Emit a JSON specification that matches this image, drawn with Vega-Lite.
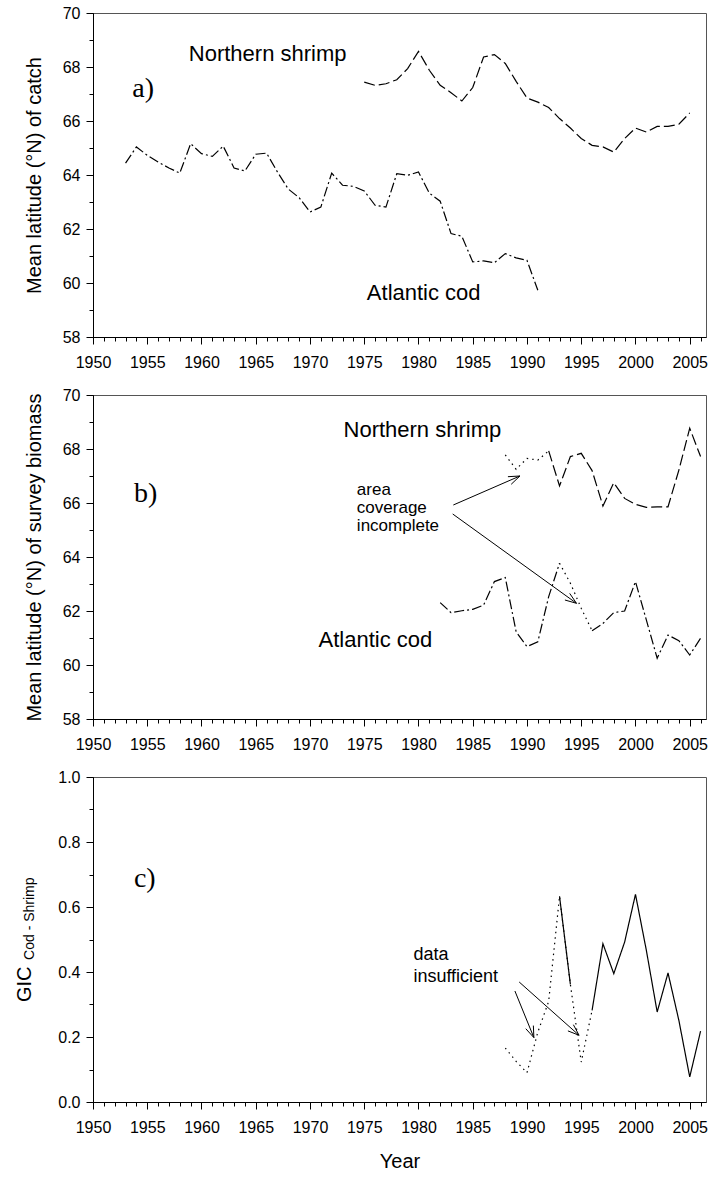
{
  "$schema": "https://vega.github.io/schema/vega-lite/v6.json",
  "background": "white",
  "padding": {"left": 14, "top": 4, "right": 5, "bottom": 5},
  "bounds": "flush",
  "spacing": 58,
  "resolve": {"scale": {"strokeDash": "independent"}},
  "config": {
    "font": "Liberation Sans",
    "view": {"stroke": "#555", "strokeWidth": 1},
    "axis": {
      "domainColor": "black", "tickColor": "black", "grid": false,
      "labelFont": "Liberation Sans", "labelFontSize": 16, "labelColor": "black",
      "titleFont": "Liberation Sans", "titleFontSize": 20, "titleFontWeight": "normal", "titleColor": "black",
      "labelFlush": false, "labelOverlap": false, "labelBound": false
    }
  },
  "datasets": {
    "catch": [
      {"year": 1953, "lat": 64.44, "species": "Atlantic cod"},
      {"year": 1954, "lat": 65.04, "species": "Atlantic cod"},
      {"year": 1955, "lat": 64.73, "species": "Atlantic cod"},
      {"year": 1956, "lat": 64.48, "species": "Atlantic cod"},
      {"year": 1957, "lat": 64.26, "species": "Atlantic cod"},
      {"year": 1958, "lat": 64.07, "species": "Atlantic cod"},
      {"year": 1959, "lat": 65.16, "species": "Atlantic cod"},
      {"year": 1960, "lat": 64.79, "species": "Atlantic cod"},
      {"year": 1961, "lat": 64.69, "species": "Atlantic cod"},
      {"year": 1962, "lat": 65.07, "species": "Atlantic cod"},
      {"year": 1963, "lat": 64.26, "species": "Atlantic cod"},
      {"year": 1964, "lat": 64.15, "species": "Atlantic cod"},
      {"year": 1965, "lat": 64.77, "species": "Atlantic cod"},
      {"year": 1966, "lat": 64.81, "species": "Atlantic cod"},
      {"year": 1967, "lat": 64.11, "species": "Atlantic cod"},
      {"year": 1968, "lat": 63.48, "species": "Atlantic cod"},
      {"year": 1969, "lat": 63.16, "species": "Atlantic cod"},
      {"year": 1970, "lat": 62.63, "species": "Atlantic cod"},
      {"year": 1971, "lat": 62.81, "species": "Atlantic cod"},
      {"year": 1972, "lat": 64.07, "species": "Atlantic cod"},
      {"year": 1973, "lat": 63.62, "species": "Atlantic cod"},
      {"year": 1974, "lat": 63.58, "species": "Atlantic cod"},
      {"year": 1975, "lat": 63.41, "species": "Atlantic cod"},
      {"year": 1976, "lat": 62.88, "species": "Atlantic cod"},
      {"year": 1977, "lat": 62.81, "species": "Atlantic cod"},
      {"year": 1978, "lat": 64.05, "species": "Atlantic cod"},
      {"year": 1979, "lat": 63.99, "species": "Atlantic cod"},
      {"year": 1980, "lat": 64.11, "species": "Atlantic cod"},
      {"year": 1981, "lat": 63.33, "species": "Atlantic cod"},
      {"year": 1982, "lat": 63.03, "species": "Atlantic cod"},
      {"year": 1983, "lat": 61.83, "species": "Atlantic cod"},
      {"year": 1984, "lat": 61.73, "species": "Atlantic cod"},
      {"year": 1985, "lat": 60.78, "species": "Atlantic cod"},
      {"year": 1986, "lat": 60.82, "species": "Atlantic cod"},
      {"year": 1987, "lat": 60.75, "species": "Atlantic cod"},
      {"year": 1988, "lat": 61.09, "species": "Atlantic cod"},
      {"year": 1989, "lat": 60.93, "species": "Atlantic cod"},
      {"year": 1990, "lat": 60.84, "species": "Atlantic cod"},
      {"year": 1991, "lat": 59.73, "species": "Atlantic cod"},
      {"year": 1975, "lat": 67.44, "species": "Northern shrimp"},
      {"year": 1976, "lat": 67.32, "species": "Northern shrimp"},
      {"year": 1977, "lat": 67.38, "species": "Northern shrimp"},
      {"year": 1978, "lat": 67.53, "species": "Northern shrimp"},
      {"year": 1979, "lat": 67.94, "species": "Northern shrimp"},
      {"year": 1980, "lat": 68.58, "species": "Northern shrimp"},
      {"year": 1981, "lat": 67.88, "species": "Northern shrimp"},
      {"year": 1982, "lat": 67.32, "species": "Northern shrimp"},
      {"year": 1983, "lat": 67.05, "species": "Northern shrimp"},
      {"year": 1984, "lat": 66.74, "species": "Northern shrimp"},
      {"year": 1985, "lat": 67.24, "species": "Northern shrimp"},
      {"year": 1986, "lat": 68.37, "species": "Northern shrimp"},
      {"year": 1987, "lat": 68.46, "species": "Northern shrimp"},
      {"year": 1988, "lat": 68.13, "species": "Northern shrimp"},
      {"year": 1989, "lat": 67.47, "species": "Northern shrimp"},
      {"year": 1990, "lat": 66.85, "species": "Northern shrimp"},
      {"year": 1991, "lat": 66.70, "species": "Northern shrimp"},
      {"year": 1992, "lat": 66.50, "species": "Northern shrimp"},
      {"year": 1993, "lat": 66.09, "species": "Northern shrimp"},
      {"year": 1994, "lat": 65.74, "species": "Northern shrimp"},
      {"year": 1995, "lat": 65.35, "species": "Northern shrimp"},
      {"year": 1996, "lat": 65.10, "species": "Northern shrimp"},
      {"year": 1997, "lat": 65.04, "species": "Northern shrimp"},
      {"year": 1998, "lat": 64.85, "species": "Northern shrimp"},
      {"year": 1999, "lat": 65.35, "species": "Northern shrimp"},
      {"year": 2000, "lat": 65.74, "species": "Northern shrimp"},
      {"year": 2001, "lat": 65.59, "species": "Northern shrimp"},
      {"year": 2002, "lat": 65.80, "species": "Northern shrimp"},
      {"year": 2003, "lat": 65.80, "species": "Northern shrimp"},
      {"year": 2004, "lat": 65.88, "species": "Northern shrimp"},
      {"year": 2005, "lat": 66.30, "species": "Northern shrimp"}
    ],
    "survey": [
      {"year": 1988, "lat": 67.78, "series": "Northern shrimp (incomplete coverage)", "segment": "s1"},
      {"year": 1989, "lat": 67.25, "series": "Northern shrimp (incomplete coverage)", "segment": "s1"},
      {"year": 1990, "lat": 67.65, "series": "Northern shrimp (incomplete coverage)", "segment": "s1"},
      {"year": 1991, "lat": 67.59, "series": "Northern shrimp (incomplete coverage)", "segment": "s1"},
      {"year": 1992, "lat": 67.93, "series": "Northern shrimp (incomplete coverage)", "segment": "s1"},
      {"year": 1992, "lat": 67.93, "series": "Northern shrimp", "segment": "s2"},
      {"year": 1993, "lat": 66.63, "series": "Northern shrimp", "segment": "s2"},
      {"year": 1994, "lat": 67.72, "series": "Northern shrimp", "segment": "s2"},
      {"year": 1995, "lat": 67.84, "series": "Northern shrimp", "segment": "s2"},
      {"year": 1996, "lat": 67.20, "series": "Northern shrimp", "segment": "s2"},
      {"year": 1997, "lat": 65.89, "series": "Northern shrimp", "segment": "s2"},
      {"year": 1998, "lat": 66.75, "series": "Northern shrimp", "segment": "s2"},
      {"year": 1999, "lat": 66.17, "series": "Northern shrimp", "segment": "s2"},
      {"year": 2000, "lat": 65.95, "series": "Northern shrimp", "segment": "s2"},
      {"year": 2001, "lat": 65.84, "series": "Northern shrimp", "segment": "s2"},
      {"year": 2002, "lat": 65.86, "series": "Northern shrimp", "segment": "s2"},
      {"year": 2003, "lat": 65.86, "series": "Northern shrimp", "segment": "s2"},
      {"year": 2004, "lat": 67.22, "series": "Northern shrimp", "segment": "s2"},
      {"year": 2005, "lat": 68.77, "series": "Northern shrimp", "segment": "s2"},
      {"year": 2006, "lat": 67.72, "series": "Northern shrimp", "segment": "s2"},
      {"year": 1982, "lat": 62.31, "series": "Atlantic cod", "segment": "c1"},
      {"year": 1983, "lat": 61.94, "series": "Atlantic cod", "segment": "c1"},
      {"year": 1984, "lat": 62.01, "series": "Atlantic cod", "segment": "c1"},
      {"year": 1985, "lat": 62.06, "series": "Atlantic cod", "segment": "c1"},
      {"year": 1986, "lat": 62.22, "series": "Atlantic cod", "segment": "c1"},
      {"year": 1987, "lat": 63.09, "series": "Atlantic cod", "segment": "c1"},
      {"year": 1988, "lat": 63.24, "series": "Atlantic cod", "segment": "c1"},
      {"year": 1989, "lat": 61.23, "series": "Atlantic cod", "segment": "c1"},
      {"year": 1990, "lat": 60.68, "series": "Atlantic cod", "segment": "c1"},
      {"year": 1991, "lat": 60.86, "series": "Atlantic cod", "segment": "c1"},
      {"year": 1992, "lat": 62.53, "series": "Atlantic cod", "segment": "c1"},
      {"year": 1993, "lat": 63.77, "series": "Atlantic cod", "segment": "c1"},
      {"year": 1993, "lat": 63.77, "series": "Atlantic cod (incomplete coverage)", "segment": "c2"},
      {"year": 1994, "lat": 63.03, "series": "Atlantic cod (incomplete coverage)", "segment": "c2"},
      {"year": 1995, "lat": 62.10, "series": "Atlantic cod (incomplete coverage)", "segment": "c2"},
      {"year": 1996, "lat": 61.27, "series": "Atlantic cod (incomplete coverage)", "segment": "c2"},
      {"year": 1996, "lat": 61.27, "series": "Atlantic cod", "segment": "c3"},
      {"year": 1997, "lat": 61.54, "series": "Atlantic cod", "segment": "c3"},
      {"year": 1998, "lat": 61.94, "series": "Atlantic cod", "segment": "c3"},
      {"year": 1999, "lat": 62.00, "series": "Atlantic cod", "segment": "c3"},
      {"year": 2000, "lat": 63.09, "series": "Atlantic cod", "segment": "c3"},
      {"year": 2001, "lat": 61.67, "series": "Atlantic cod", "segment": "c3"},
      {"year": 2002, "lat": 60.25, "series": "Atlantic cod", "segment": "c3"},
      {"year": 2003, "lat": 61.11, "series": "Atlantic cod", "segment": "c3"},
      {"year": 2004, "lat": 60.90, "series": "Atlantic cod", "segment": "c3"},
      {"year": 2005, "lat": 60.37, "series": "Atlantic cod", "segment": "c3"},
      {"year": 2006, "lat": 60.99, "series": "Atlantic cod", "segment": "c3"}
    ],
    "gic": [
      {"year": 1988, "gic": 0.166, "status": "data insufficient", "segment": "g1"},
      {"year": 1989, "gic": 0.125, "status": "data insufficient", "segment": "g1"},
      {"year": 1990, "gic": 0.090, "status": "data insufficient", "segment": "g1"},
      {"year": 1991, "gic": 0.215, "status": "data insufficient", "segment": "g1"},
      {"year": 1992, "gic": 0.310, "status": "data insufficient", "segment": "g1"},
      {"year": 1993, "gic": 0.633, "status": "data insufficient", "segment": "g1"},
      {"year": 1994, "gic": 0.362, "status": "data insufficient", "segment": "g1"},
      {"year": 1995, "gic": 0.123, "status": "data insufficient", "segment": "g1"},
      {"year": 1996, "gic": 0.282, "status": "data insufficient", "segment": "g1"},
      {"year": 1993, "gic": 0.633, "status": "data sufficient", "segment": "g2"},
      {"year": 1994, "gic": 0.362, "status": "data sufficient", "segment": "g2"},
      {"year": 1996, "gic": 0.282, "status": "data sufficient", "segment": "g3"},
      {"year": 1997, "gic": 0.487, "status": "data sufficient", "segment": "g3"},
      {"year": 1998, "gic": 0.395, "status": "data sufficient", "segment": "g3"},
      {"year": 1999, "gic": 0.492, "status": "data sufficient", "segment": "g3"},
      {"year": 2000, "gic": 0.639, "status": "data sufficient", "segment": "g3"},
      {"year": 2001, "gic": 0.467, "status": "data sufficient", "segment": "g3"},
      {"year": 2002, "gic": 0.277, "status": "data sufficient", "segment": "g3"},
      {"year": 2003, "gic": 0.397, "status": "data sufficient", "segment": "g3"},
      {"year": 2004, "gic": 0.251, "status": "data sufficient", "segment": "g3"},
      {"year": 2005, "gic": 0.077, "status": "data sufficient", "segment": "g3"},
      {"year": 2006, "gic": 0.218, "status": "data sufficient", "segment": "g3"}
    ],
    "panelA_letter": [{"x": 1953.62, "y": 66.88, "text": "a)"}],
    "panelA_species": [
      {"x": 1958.83, "y": 68.21, "text": "Northern shrimp"},
      {"x": 1975.24, "y": 59.36, "text": "Atlantic cod"}
    ],
    "panelB_letter": [{"x": 1953.77, "y": 66.05, "text": "b)"}],
    "panelB_species": [
      {"x": 1973.09, "y": 68.44, "text": "Northern shrimp"},
      {"x": 1970.79, "y": 60.68, "text": "Atlantic cod"}
    ],
    "panelB_note": [{"x": 1974.32, "y": 66.30, "text": "area\ncoverage\nincomplete"}],
    "panelB_arrows": [
      {"x": 1983.21, "y": 65.926, "x2": 1989.347, "y2": 67.0},
      {"x": 1988.243, "y": 66.974, "x2": 1989.347, "y2": 67.0},
      {"x": 1988.547, "y": 66.693, "x2": 1989.347, "y2": 67.0},
      {"x": 1983.155, "y": 65.593, "x2": 1994.563, "y2": 62.285},
      {"x": 1993.937, "y": 62.652, "x2": 1994.563, "y2": 62.285},
      {"x": 1993.496, "y": 62.407, "x2": 1994.563, "y2": 62.285}
    ],
    "panelC_letter": [{"x": 1953.77, "y": 0.6615, "text": "c)"}],
    "panelC_note": [{"x": 1979.53, "y": 0.436, "text": "data\ninsufficient"}],
    "panelC_sub": [{"x": 1944.53, "y": 0.564, "text": "Cod - Shrimp"}],
    "panelC_arrows": [
      {"x": 1988.887, "y": 0.3415, "x2": 1990.635, "y2": 0.1982},
      {"x": 1990.589, "y": 0.2351, "x2": 1990.635, "y2": 0.1982},
      {"x": 1989.89, "y": 0.2255, "x2": 1990.635, "y2": 0.1982},
      {"x": 1989.282, "y": 0.3692, "x2": 1994.802, "y2": 0.2052},
      {"x": 1994.278, "y": 0.2378, "x2": 1994.802, "y2": 0.2052},
      {"x": 1993.772, "y": 0.2188, "x2": 1994.802, "y2": 0.2052}
    ]
  },
  "vconcat": [
    {
      "width": 613, "height": 324,
      "resolve": {"axis": {"x": "independent", "y": "independent"}},
      "layer": [
        {
          "data": {"name": "catch"},
          "mark": {"type": "line", "color": "black", "strokeWidth": 1.2},
          "encoding": {
            "x": {"field": "year", "type": "quantitative",
              "scale": {"domain": [1950, 2006.5], "nice": false, "zero": false},
              "axis": {"orient": "bottom", "title": null, "format": "d", "labelOverlap": false, "labelFlush": false,
                "values": [1950,1955,1960,1965,1970,1975,1980,1985,1990,1995,2000,2005],
                "tickSize": 7, "labelPadding": 10}},
            "y": {"field": "lat", "type": "quantitative",
              "scale": {"domain": [58, 70], "nice": false, "zero": false},
              "axis": {"orient": "left", "title": "Mean latitude (°N) of catch", "labelOverlap": false,
                "values": [58,60,62,64,66,68,70], "tickSize": 7, "labelPadding": 6,
                "titleAngle": 270, "titleBaseline": "alphabetic", "titleAlign": "center", "titleX": -52.3}},
            "strokeDash": {"field": "species", "type": "nominal",
              "scale": {"domain": ["Atlantic cod", "Northern shrimp"], "range": [[10, 3, 2, 3], [11, 4]]},
              "legend": null}
          }
        },
        {
          "data": {"name": "panelA_species"},
          "mark": {"type": "text", "font": "Liberation Sans", "fontSize": 22, "align": "left", "baseline": "alphabetic", "color": "black"},
          "encoding": {"x": {"field": "x", "type": "quantitative", "axis": null}, "y": {"field": "y", "type": "quantitative", "axis": null}, "text": {"field": "text"}}
        },
        {
          "data": {"name": "panelA_letter"},
          "mark": {"type": "text", "font": "Liberation Serif", "fontSize": 28, "align": "left", "baseline": "alphabetic", "color": "black"},
          "encoding": {
            "x": {"field": "x", "type": "quantitative",
              "axis": {"orient": "bottom", "title": null, "labels": false, "domain": false, "tickSize": 4,
                "values": [1950,1951,1952,1953,1954,1955,1956,1957,1958,1959,1960,1961,1962,1963,1964,1965,1966,1967,1968,1969,1970,1971,1972,1973,1974,1975,1976,1977,1978,1979,1980,1981,1982,1983,1984,1985,1986,1987,1988,1989,1990,1991,1992,1993,1994,1995,1996,1997,1998,1999,2000,2001,2002,2003,2004,2005,2006]}},
            "y": {"field": "y", "type": "quantitative",
              "axis": {"orient": "left", "title": null, "labels": false, "domain": false, "tickSize": 4,
                "values": [58,59,60,61,62,63,64,65,66,67,68,69,70]}},
            "text": {"field": "text"}}
        }
      ]
    },
    {
      "width": 613, "height": 324,
      "resolve": {"axis": {"x": "independent", "y": "independent"}},
      "layer": [
        {
          "data": {"name": "survey"},
          "mark": {"type": "line", "color": "black", "strokeWidth": 1.2},
          "encoding": {
            "x": {"field": "year", "type": "quantitative",
              "scale": {"domain": [1950, 2006.5], "nice": false, "zero": false},
              "axis": {"orient": "bottom", "title": null, "format": "d", "labelOverlap": false, "labelFlush": false,
                "values": [1950,1955,1960,1965,1970,1975,1980,1985,1990,1995,2000,2005],
                "tickSize": 7, "labelPadding": 10}},
            "y": {"field": "lat", "type": "quantitative",
              "scale": {"domain": [58, 70], "nice": false, "zero": false},
              "axis": {"orient": "left", "title": "Mean latitude (°N) of survey biomass", "labelOverlap": false,
                "values": [58,60,62,64,66,68,70], "tickSize": 7, "labelPadding": 6,
                "titleAngle": 270, "titleBaseline": "alphabetic", "titleAlign": "center", "titleX": -52.3}},
            "strokeDash": {"field": "series", "type": "nominal",
              "scale": {"domain": ["Northern shrimp", "Northern shrimp (incomplete coverage)", "Atlantic cod", "Atlantic cod (incomplete coverage)"],
                        "range": [[11, 4], [1.5, 4], [10, 3, 2, 3], [1.5, 4]]},
              "legend": null},
            "detail": {"field": "segment", "type": "nominal"}
          }
        },
        {
          "data": {"name": "panelB_arrows"},
          "mark": {"type": "rule", "color": "black", "strokeWidth": 1},
          "encoding": {"x": {"field": "x", "type": "quantitative", "axis": null}, "y": {"field": "y", "type": "quantitative", "axis": null},
                       "x2": {"field": "x2"}, "y2": {"field": "y2"}}
        },
        {
          "data": {"name": "panelB_species"},
          "mark": {"type": "text", "font": "Liberation Sans", "fontSize": 22, "align": "left", "baseline": "alphabetic", "color": "black"},
          "encoding": {"x": {"field": "x", "type": "quantitative", "axis": null}, "y": {"field": "y", "type": "quantitative", "axis": null}, "text": {"field": "text"}}
        },
        {
          "data": {"name": "panelB_note"},
          "mark": {"type": "text", "font": "Liberation Sans", "fontSize": 17, "align": "left", "baseline": "alphabetic", "color": "black", "lineBreak": "\n", "lineHeight": 18},
          "encoding": {"x": {"field": "x", "type": "quantitative", "axis": null}, "y": {"field": "y", "type": "quantitative", "axis": null}, "text": {"field": "text"}}
        },
        {
          "data": {"name": "panelB_letter"},
          "mark": {"type": "text", "font": "Liberation Serif", "fontSize": 28, "align": "left", "baseline": "alphabetic", "color": "black"},
          "encoding": {
            "x": {"field": "x", "type": "quantitative",
              "axis": {"orient": "bottom", "title": null, "labels": false, "domain": false, "tickSize": 4,
                "values": [1950,1951,1952,1953,1954,1955,1956,1957,1958,1959,1960,1961,1962,1963,1964,1965,1966,1967,1968,1969,1970,1971,1972,1973,1974,1975,1976,1977,1978,1979,1980,1981,1982,1983,1984,1985,1986,1987,1988,1989,1990,1991,1992,1993,1994,1995,1996,1997,1998,1999,2000,2001,2002,2003,2004,2005,2006]}},
            "y": {"field": "y", "type": "quantitative",
              "axis": {"orient": "left", "title": null, "labels": false, "domain": false, "tickSize": 4,
                "values": [58,59,60,61,62,63,64,65,66,67,68,69,70]}},
            "text": {"field": "text"}}
        }
      ]
    },
    {
      "width": 613, "height": 325,
      "resolve": {"axis": {"x": "independent", "y": "independent"}},
      "layer": [
        {
          "data": {"name": "gic"},
          "mark": {"type": "line", "color": "black", "strokeWidth": 1.2},
          "encoding": {
            "x": {"field": "year", "type": "quantitative",
              "scale": {"domain": [1950, 2006.5], "nice": false, "zero": false},
              "axis": {"orient": "bottom", "title": "Year", "format": "d", "labelOverlap": false, "labelFlush": false,
                "values": [1950,1955,1960,1965,1970,1975,1980,1985,1990,1995,2000,2005],
                "tickSize": 7, "labelPadding": 10, "titlePadding": 16}},
            "y": {"field": "gic", "type": "quantitative",
              "scale": {"domain": [0, 1], "nice": false},
              "axis": {"orient": "left", "title": "GIC", "labelOverlap": false,
                "values": [0, 0.2, 0.4, 0.6, 0.8, 1.0], "format": ".1f", "tickSize": 7, "labelPadding": 6,
                "titleAngle": 270, "titleBaseline": "alphabetic", "titleAlign": "center", "titleX": -62.3, "titleY": 206.8}},
            "strokeDash": {"field": "status", "type": "nominal",
              "scale": {"domain": ["data sufficient", "data insufficient"], "range": [[1, 0], [1.5, 4]]},
              "legend": null},
            "detail": {"field": "segment", "type": "nominal"}
          }
        },
        {
          "data": {"name": "panelC_arrows"},
          "mark": {"type": "rule", "color": "black", "strokeWidth": 1},
          "encoding": {"x": {"field": "x", "type": "quantitative", "axis": null}, "y": {"field": "y", "type": "quantitative", "axis": null},
                       "x2": {"field": "x2"}, "y2": {"field": "y2"}}
        },
        {
          "data": {"name": "panelC_note"},
          "mark": {"type": "text", "font": "Liberation Sans", "fontSize": 18, "align": "left", "baseline": "alphabetic", "color": "black", "lineBreak": "\n", "lineHeight": 21.5},
          "encoding": {"x": {"field": "x", "type": "quantitative", "axis": null}, "y": {"field": "y", "type": "quantitative", "axis": null}, "text": {"field": "text"}}
        },
        {
          "data": {"name": "panelC_sub"},
          "mark": {"type": "text", "font": "Liberation Sans", "fontSize": 14, "align": "center", "baseline": "alphabetic", "angle": 270, "color": "black"},
          "encoding": {"x": {"field": "x", "type": "quantitative", "axis": null}, "y": {"field": "y", "type": "quantitative", "axis": null}, "text": {"field": "text"}}
        },
        {
          "data": {"name": "panelC_letter"},
          "mark": {"type": "text", "font": "Liberation Serif", "fontSize": 28, "align": "left", "baseline": "alphabetic", "color": "black"},
          "encoding": {
            "x": {"field": "x", "type": "quantitative",
              "axis": {"orient": "bottom", "title": null, "labels": false, "domain": false, "tickSize": 4,
                "values": [1950,1951,1952,1953,1954,1955,1956,1957,1958,1959,1960,1961,1962,1963,1964,1965,1966,1967,1968,1969,1970,1971,1972,1973,1974,1975,1976,1977,1978,1979,1980,1981,1982,1983,1984,1985,1986,1987,1988,1989,1990,1991,1992,1993,1994,1995,1996,1997,1998,1999,2000,2001,2002,2003,2004,2005,2006]}},
            "y": {"field": "y", "type": "quantitative",
              "axis": {"orient": "left", "title": null, "labels": false, "domain": false, "tickSize": 4,
                "values": [0, 0.1, 0.2, 0.3, 0.4, 0.5, 0.6, 0.7, 0.8, 0.9, 1.0]}},
            "text": {"field": "text"}}
        }
      ]
    }
  ]
}
